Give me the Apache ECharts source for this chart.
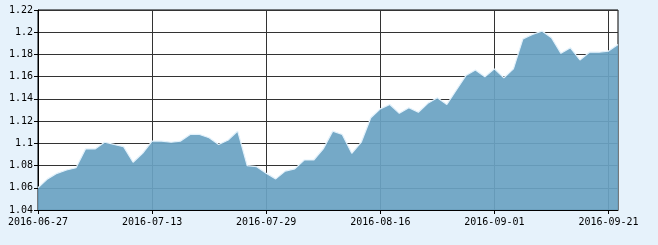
<!DOCTYPE html>
<html>
<head>
<meta charset="utf-8">
<script src="https://cdn.jsdelivr.net/npm/echarts@6/dist/echarts.min.js"></script>
<style>
html,body{margin:0;padding:0;background:#e6f2fb;}
#c{width:658px;height:245px;}
</style>
</head>
<body>
<div id="c"></div>
<script>
const dates = [
  '2016-06-27','2016-06-28','2016-06-29','2016-06-30','2016-07-01','2016-07-04','2016-07-05','2016-07-06','2016-07-07','2016-07-08','2016-07-11','2016-07-12','2016-07-13',
  '2016-07-14','2016-07-15','2016-07-18','2016-07-19','2016-07-20','2016-07-21','2016-07-22','2016-07-25','2016-07-26','2016-07-27','2016-07-28','2016-07-29',
  '2016-08-01','2016-08-02','2016-08-03','2016-08-04','2016-08-05','2016-08-08','2016-08-09','2016-08-10','2016-08-11','2016-08-12','2016-08-15','2016-08-16',
  '2016-08-17','2016-08-18','2016-08-19','2016-08-22','2016-08-23','2016-08-24','2016-08-25','2016-08-26','2016-08-29','2016-08-30','2016-08-31','2016-09-01',
  '2016-09-02','2016-09-05','2016-09-06','2016-09-07','2016-09-08','2016-09-09','2016-09-12','2016-09-13','2016-09-14','2016-09-19','2016-09-20','2016-09-21',
  '2016-09-22'
];
const values = [
  1.060,1.068,1.073,1.076,1.078,1.095,1.095,1.101,1.099,1.097,1.083,1.091,1.102,
  1.102,1.101,1.102,1.108,1.108,1.105,1.099,1.103,1.111,1.080,1.079,1.073,
  1.068,1.075,1.077,1.085,1.085,1.095,1.111,1.108,1.091,1.101,1.123,1.131,
  1.135,1.127,1.132,1.128,1.136,1.141,1.135,1.148,1.161,1.166,1.160,1.167,
  1.159,1.167,1.194,1.198,1.201,1.195,1.181,1.186,1.175,1.182,1.182,1.183,
  1.189
];
const yMin = 1.04, yMax = 1.22, yStep = 0.02;

const chart = echarts.init(document.getElementById('c'), null, {renderer:'canvas'});
const font = 'DejaVu Sans Mono';
chart.setOption({
  animation:false,
  backgroundColor:'#e6f2fb',
  grid:{left:38,right:40,top:10,bottom:35,show:true,backgroundColor:'#ffffff',borderColor:'#000',borderWidth:1},
  xAxis:{
    type:'category',data:dates,boundaryGap:false,
    axisLine:{lineStyle:{color:'#000',width:1}},
    axisTick:{show:true,interval:11,length:4,lineStyle:{color:'#000'}},
    axisLabel:{interval:11,color:'#000',fontFamily:font,fontSize:10,margin:7},
    splitLine:{show:true,interval:11,lineStyle:{color:'#333',width:1}}
  },
  yAxis:{
    type:'value',min:yMin,max:yMax,interval:yStep,
    axisLine:{show:true,lineStyle:{color:'#000',width:1}},
    axisTick:{show:true,length:4,lineStyle:{color:'#000'}},
    axisLabel:{color:'#000',fontFamily:font,fontSize:10,margin:5},
    splitLine:{show:true,lineStyle:{color:'#333',width:1}}
  },
  series:[{
    type:'line',data:values,symbol:'none',
    lineStyle:{color:'#e2f1fb',width:1.2},
    areaStyle:{color:'rgb(106,163,195)',opacity:0.93}
  }]
});
</script>
</body>
</html>
